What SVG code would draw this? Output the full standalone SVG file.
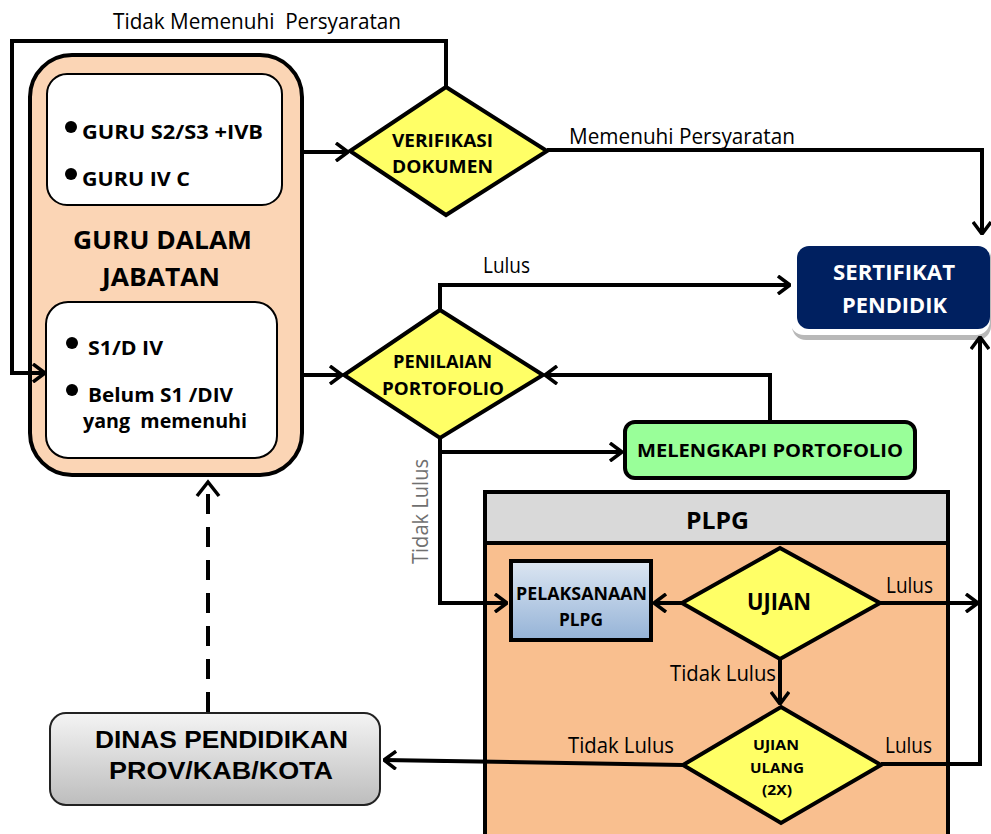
<svg xmlns="http://www.w3.org/2000/svg" width="991" height="834" viewBox="0 0 991 834">
<style>
.t{font-family:"Open Sans","Noto Sans","Liberation Sans",sans-serif;fill:#000;white-space:pre}
.b{font-weight:bold}
.c{stroke:#000;stroke-width:4;fill:none}
.dia{fill:#FFFF66;stroke:#000;stroke-width:4}
</style>
<defs>
<marker id="arr" viewBox="0 0 14 20" refX="13" refY="10" markerWidth="14" markerHeight="20" markerUnits="userSpaceOnUse" orient="auto">
<path d="M1,1 L13,10 L1,19" fill="none" stroke="#000" stroke-width="3.5"/>
</marker>
<linearGradient id="gBlue" x1="0" y1="0" x2="0" y2="1"><stop offset="0" stop-color="#DCE6F2"/><stop offset="1" stop-color="#95B3D7"/></linearGradient>
<linearGradient id="gGray" x1="0" y1="0" x2="0" y2="1"><stop offset="0" stop-color="#F4F4F4"/><stop offset="1" stop-color="#BDBDBD"/></linearGradient>
</defs>
<rect width="991" height="834" fill="#fff"/>

<g id="guru">
<rect x="30" y="55" width="272" height="420" rx="42" fill="#FBD5B5" stroke="#000" stroke-width="4"/>
<rect x="47" y="74" width="235" height="131" rx="20" fill="#fff" stroke="#000" stroke-width="2"/>
<circle cx="71" cy="127" r="6"/>
<text class="t b" x="82" y="139" font-size="20" textLength="181" lengthAdjust="spacingAndGlyphs">GURU S2/S3 +IVB</text>
<circle cx="71" cy="174" r="6"/>
<text class="t b" x="82" y="186" font-size="20" textLength="108" lengthAdjust="spacingAndGlyphs">GURU IV C</text>
<text class="t b" x="73" y="249" font-size="25" textLength="179" lengthAdjust="spacingAndGlyphs">GURU DALAM</text>
<text class="t b" x="102" y="286" font-size="25" textLength="118" lengthAdjust="spacingAndGlyphs">JABATAN</text>
<rect x="46" y="302" width="231" height="156" rx="22" fill="#fff" stroke="#000" stroke-width="2"/>
<circle cx="72" cy="343" r="6"/>
<text class="t b" x="88" y="355" font-size="20" textLength="75" lengthAdjust="spacingAndGlyphs">S1/D IV</text>
<circle cx="72" cy="390" r="6"/>
<text class="t b" x="88" y="402" font-size="20" textLength="145" lengthAdjust="spacingAndGlyphs">Belum S1 /DIV</text>
<text class="t b" x="83" y="428" font-size="20" textLength="164" lengthAdjust="spacingAndGlyphs">yang  memenuhi</text>
</g>

<g id="verifikasi">
<polygon class="dia" points="446,87 547,151 446,215 350,151"/>
<text class="t b" x="392" y="147" font-size="18.5" textLength="101" lengthAdjust="spacingAndGlyphs">VERIFIKASI</text>
<text class="t b" x="392" y="173" font-size="18.5" textLength="101" lengthAdjust="spacingAndGlyphs">DOKUMEN</text>
</g>

<g id="penilaian">
<polygon class="dia" points="440,310 543,375 440,438 344,375"/>
<text class="t b" x="393" y="368" font-size="18.5" textLength="99" lengthAdjust="spacingAndGlyphs">PENILAIAN</text>
<text class="t b" x="382" y="395" font-size="18.5" textLength="122" lengthAdjust="spacingAndGlyphs">PORTOFOLIO</text>
</g>

<g id="sertifikat">
<rect x="792" y="244" width="199" height="96" rx="14" fill="#B8B8B8"/>
<rect x="790" y="240" width="200" height="95" rx="14" fill="#fff"/>
<rect x="797" y="246" width="193" height="83" rx="12" fill="#002060"/>
<text class="t b" x="833" y="280" font-size="21" textLength="122" lengthAdjust="spacingAndGlyphs" style="fill:#fff">SERTIFIKAT</text>
<text class="t b" x="842" y="313" font-size="21" textLength="105" lengthAdjust="spacingAndGlyphs" style="fill:#fff">PENDIDIK</text>
</g>

<g id="melengkapi">
<rect x="625" y="422" width="290" height="56" rx="10" fill="#99FF99" stroke="#000" stroke-width="4"/>
<text class="t b" x="637" y="457" font-size="18.5" textLength="266" lengthAdjust="spacingAndGlyphs">MELENGKAPI PORTOFOLIO</text>
</g>

<g id="plpg">
<rect x="485" y="492" width="463" height="360" fill="#F9BF8F" stroke="#000" stroke-width="4"/>
<rect x="485" y="492" width="463" height="51" fill="#D9D9D9" stroke="#000" stroke-width="4"/>
<text class="t b" x="686" y="529" font-size="22.5" textLength="63" lengthAdjust="spacingAndGlyphs">PLPG</text>
</g>

<g id="pelaksanaan">
<rect x="511" y="561" width="140" height="79" fill="url(#gBlue)" stroke="#000" stroke-width="4"/>
<text class="t b" x="516" y="600" font-size="17.5" textLength="131" lengthAdjust="spacingAndGlyphs">PELAKSANAAN</text>
<text class="t b" x="559" y="626" font-size="17.5" textLength="44" lengthAdjust="spacingAndGlyphs">PLPG</text>
</g>

<g id="ujian">
<polygon class="dia" points="780,548 880,603 780,659 682,603"/>
<text class="t b" x="747" y="610" font-size="23" textLength="64" lengthAdjust="spacingAndGlyphs">UJIAN</text>
</g>

<g id="ujian-ulang">
<polygon class="dia" points="781,707 881,765 781,823 683,765"/>
<text class="t b" x="753" y="750" font-size="14" textLength="46" lengthAdjust="spacingAndGlyphs">UJIAN</text>
<text class="t b" x="750" y="773" font-size="14" textLength="54" lengthAdjust="spacingAndGlyphs">ULANG</text>
<text class="t b" x="762" y="795" font-size="14" textLength="30" lengthAdjust="spacingAndGlyphs">(2X)</text>
</g>

<g id="dinas">
<rect x="50" y="713" width="330" height="92" rx="16" fill="url(#gGray)" stroke="#222" stroke-width="2"/>
<text x="95" y="748" font-size="24" font-family="Liberation Sans,Arial,sans-serif" font-weight="bold" textLength="253" lengthAdjust="spacingAndGlyphs">DINAS PENDIDIKAN</text>
<text x="109" y="779" font-size="24" font-family="Liberation Sans,Arial,sans-serif" font-weight="bold" textLength="224" lengthAdjust="spacingAndGlyphs">PROV/KAB/KOTA</text>
</g>

<g id="connectors">
<polyline class="c" points="446,87 446,41 12,41 12,373 45,373" marker-end="url(#arr)"/>
<line class="c" x1="302" y1="152" x2="348" y2="152" marker-end="url(#arr)"/>
<polyline class="c" points="547,150 982,150 982,234" marker-end="url(#arr)"/>
<line class="c" x1="302" y1="375" x2="342" y2="375" marker-end="url(#arr)"/>
<polyline class="c" points="440,310 440,285 790,285" marker-end="url(#arr)"/>
<polyline class="c" points="770,422 770,375 545,375" marker-end="url(#arr)"/>
<polyline class="c" points="440,438 440,452 622,452" marker-end="url(#arr)"/>
<polyline class="c" points="440,452 440,603 507,603" marker-end="url(#arr)"/>
<line class="c" x1="682" y1="603" x2="654" y2="603" marker-end="url(#arr)"/>
<line class="c" x1="880" y1="603" x2="978" y2="603" marker-end="url(#arr)"/>
<line class="c" x1="780" y1="659" x2="780" y2="704" marker-end="url(#arr)"/>
<polyline class="c" points="881,764 980,764 980,337" marker-end="url(#arr)"/>
<line class="c" x1="683" y1="765" x2="384" y2="760" marker-end="url(#arr)"/>
<line class="c" x1="208" y1="712" x2="208" y2="481" stroke-dasharray="20 13" stroke-width="3.5"/>
<path d="M197,496 L208,482 L219,496" fill="none" stroke="#000" stroke-width="3.5"/>
</g>

<g id="labels">
<text class="t" x="113" y="29" font-size="21" textLength="288" lengthAdjust="spacingAndGlyphs">Tidak Memenuhi  Persyaratan</text>
<text class="t" x="569" y="144" font-size="21" textLength="226" lengthAdjust="spacingAndGlyphs">Memenuhi Persyaratan</text>
<text class="t" x="483" y="273" font-size="21" textLength="47" lengthAdjust="spacingAndGlyphs">Lulus</text>
<text class="t" x="-52" y="0" font-size="21" textLength="105" lengthAdjust="spacingAndGlyphs" style="fill:#707070" transform="translate(428 512) rotate(-90)">Tidak Lulus</text>
<text class="t" x="886" y="593" font-size="21" textLength="47" lengthAdjust="spacingAndGlyphs">Lulus</text>
<text class="t" x="670" y="681" font-size="21" textLength="106" lengthAdjust="spacingAndGlyphs">Tidak Lulus</text>
<text class="t" x="568" y="753" font-size="21" textLength="106" lengthAdjust="spacingAndGlyphs">Tidak Lulus</text>
<text class="t" x="885" y="753" font-size="21" textLength="47" lengthAdjust="spacingAndGlyphs">Lulus</text>
</g>
</svg>
